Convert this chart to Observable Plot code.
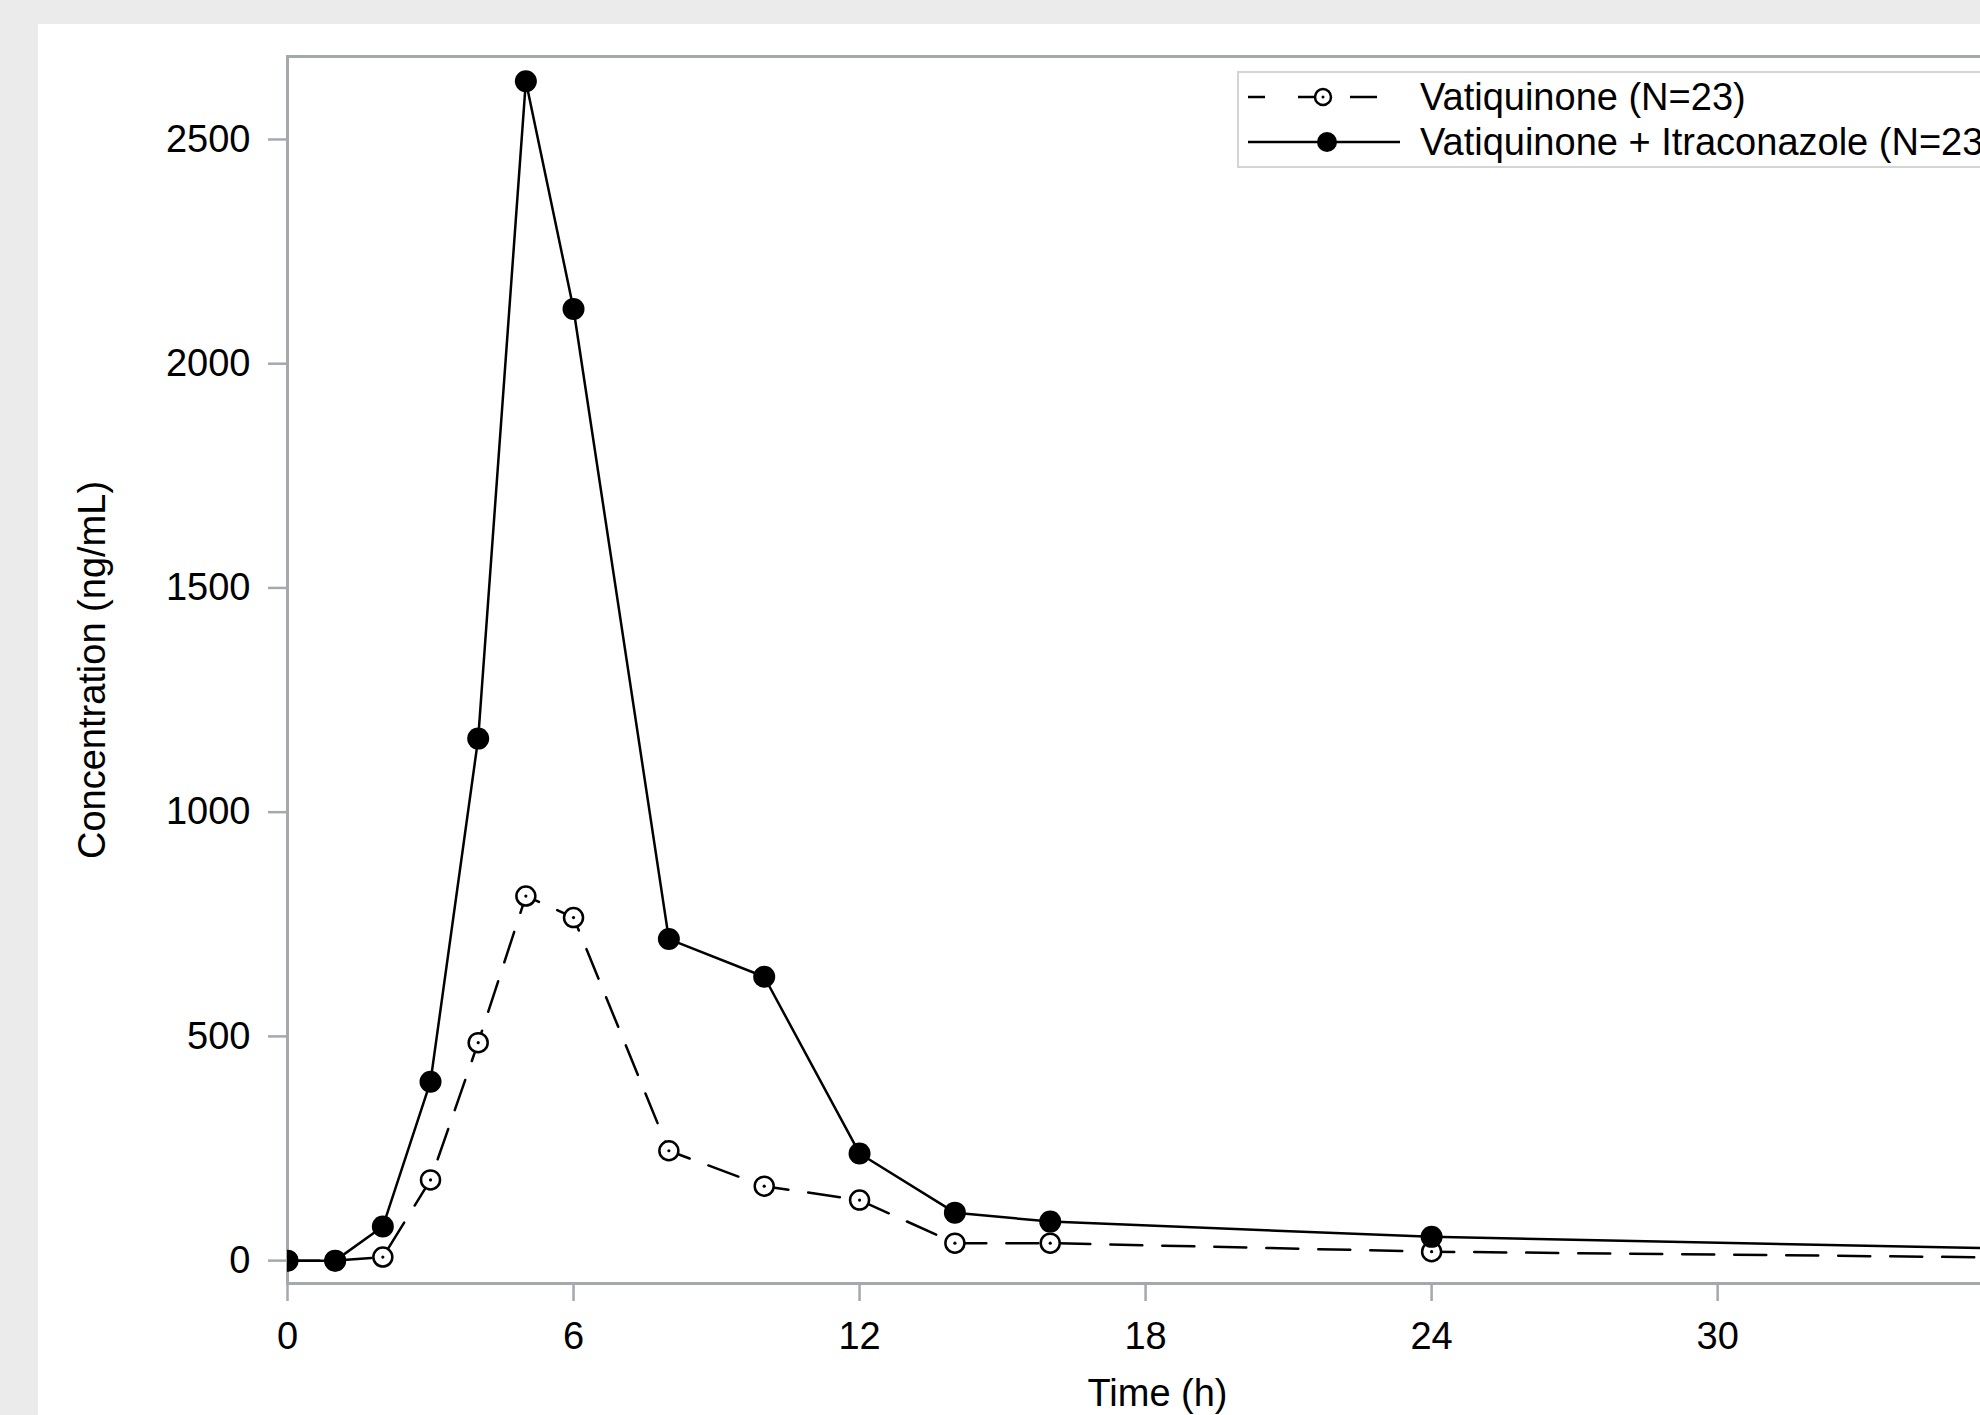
<!DOCTYPE html>
<html>
<head>
<meta charset="utf-8">
<script src="https://cdn.jsdelivr.net/npm/d3@7"></script>
<script src="https://cdn.jsdelivr.net/npm/@observablehq/plot@0.6"></script>
<style>
  html, body { margin: 0; padding: 0; }
  body { width: 1980px; height: 1415px; background: #ebebeb; overflow: hidden; position: relative;
         font-family: Arial, "Liberation Sans", sans-serif; }
  #chart { position: absolute; left: 38px; top: 24px; width: 2029px; height: 1391px; }
  #chart svg { display: block; background: #fff; max-width: none !important; width: 2029px !important; height: 1391px !important; }
  #legend { position: absolute; left: 1237px; top: 71px; }
</style>
</head>
<body>
<div id="chart"></div>
<svg id="legend" width="800" height="97" xmlns="http://www.w3.org/2000/svg">
  <rect x="1" y="1" width="798" height="95" fill="#fff" stroke="#d4d4d4" stroke-width="2"/>
  <g stroke="#000" stroke-width="2.5">
    <line x1="11" y1="26" x2="28" y2="26"/>
    <line x1="61" y1="26" x2="86" y2="26"/>
    <line x1="113" y1="26" x2="140" y2="26"/>
    <line x1="11" y1="71" x2="163" y2="71"/>
  </g>
  <circle cx="86" cy="26" r="8" fill="#fff" stroke="#000" stroke-width="2.5"/>
  <circle cx="86" cy="26" r="1.5" fill="#000"/>
  <circle cx="90" cy="71" r="10" fill="#000"/>
  <g font-family="Arial, 'Liberation Sans', sans-serif" font-size="38" fill="#000" dominant-baseline="central">
    <text x="183" y="26">Vatiquinone (N=23)</text>
    <text x="183" y="71">Vatiquinone + Itraconazole (N=23)</text>
  </g>
</svg>
<script>
// Time points (h)
const timeH = [0, 1, 2, 3, 4, 5, 6, 8, 10, 12, 14, 16, 24, 36];
// Mean concentration (ng/mL), Vatiquinone alone
const vatiquinone = [0, 0, 8, 180, 486, 813, 765, 245, 166, 135, 39, 39, 20, 7];
// Mean concentration (ng/mL), Vatiquinone + Itraconazole
const vatiItra = [0, 0, 76, 399, 1164, 2630, 2122, 717, 633, 239, 107, 87, 53, 27];
// Axis ticks (the 36 h tick lies beyond the visible right edge)
const xTicks = [0, 6, 12, 18, 24, 30];
const yTicks = [0, 500, 1000, 1500, 2000, 2500];
const xLabel = "Time (h)";
const yLabel = "Concentration (ng/mL)";

const rowsA = timeH.map((t, i) => ({t, c: vatiquinone[i]}));
const rowsB = timeH.map((t, i) => ({t, c: vatiItra[i]}));

const axisGray = "#a4a9ae";

const chart = Plot.plot({
  width: 2029,
  height: 1391,
  marginLeft: 249,
  marginRight: 40,
  marginTop: 32,
  marginBottom: 132,
  style: {fontFamily: "Arial, 'Liberation Sans', sans-serif", fontSize: "38px", color: "#000", background: "#fff"},
  x: {domain: [0, 36.5]},
  y: {domain: [-51, 2685]},
  marks: [
    Plot.frame({stroke: axisGray, strokeWidth: 3}),
    Plot.axisX({ticks: xTicks, tickSize: 18, tickPadding: 21, stroke: axisGray, strokeWidth: 2.5, label: null, tickFormat: d3.format("d")}),
    Plot.axisY({ticks: yTicks, tickSize: 19, tickPadding: 18, stroke: axisGray, strokeWidth: 2.5, label: null, tickFormat: d3.format("d")}),
    Plot.text([xLabel], {frameAnchor: "bottom", text: d => d, dy: 110, lineAnchor: "middle", textAnchor: "middle", fontSize: 38}),
    Plot.text([yLabel], {frameAnchor: "left", text: d => d, rotate: -90, dx: -195, textAnchor: "middle", lineAnchor: "middle", fontSize: 38}),
    Plot.line(rowsA, {x: "t", y: "c", stroke: "#000", strokeWidth: 2.5, strokeDasharray: "32,20", clip: true}),
    Plot.dot(rowsA, {x: "t", y: "c", r: 9.5, fill: "#fff", stroke: "#000", strokeWidth: 2.5, clip: true}),
    Plot.dot(rowsA, {x: "t", y: "c", r: 1.6, fill: "#000", stroke: null, clip: true}),
    Plot.line(rowsB, {x: "t", y: "c", stroke: "#000", strokeWidth: 2.5, clip: true}),
    Plot.dot(rowsB, {x: "t", y: "c", r: 11, fill: "#000", stroke: null, clip: true})
  ]
});
document.getElementById("chart").appendChild(chart);
</script>
</body>
</html>
